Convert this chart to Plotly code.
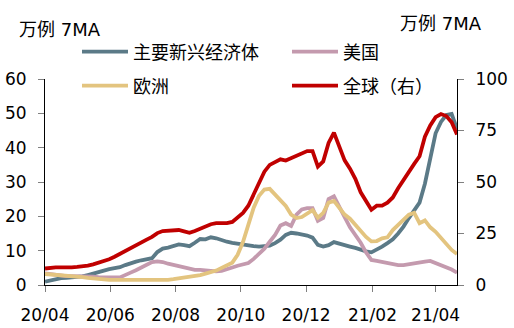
import pandas as pd
import plotly.graph_objects as go

# 5-day sampled dates, 2020-04-01 .. 2021-04-21
dates = pd.date_range("2020-04-01", periods=78, freq="5D")

emerging = [1.0, 1.4, 1.8, 2.0, 2.1, 2.2, 2.3, 2.5, 2.9, 3.4,
            3.8, 4.2, 4.6, 4.9, 5.2, 5.8, 6.4, 6.8, 7.2, 7.4,
            7.8, 9.6, 10.6, 10.9, 11.3, 11.8, 11.6, 11.3, 12.3, 13.4,
            13.3, 13.9, 13.6, 13.0, 12.6, 12.3, 12.0, 11.7, 11.4, 11.3,
            11.2, 11.4, 11.5, 12.2, 13.2, 14.6, 15.2, 15.0, 14.7, 14.4,
            13.8, 11.7, 11.2, 11.6, 12.5, 12.0, 11.5, 11.2, 10.8, 10.2,
            9.8, 9.5, 10.2, 11.2, 12.2, 13.3, 15.0, 17.0, 19.5, 21.8,
            24.0, 29.5, 37.5, 44.2, 47.5, 49.5, 49.8, 45.5]

usa = [3.4, 3.2, 3.0, 2.7, 2.6, 2.6, 2.6, 2.6, 2.5, 2.4,
       2.3, 2.2, 2.2, 2.2, 2.2, 2.8, 3.6, 4.3, 5.0, 5.8,
       6.7, 6.9, 6.7, 6.2, 5.8, 5.4, 5.2, 4.6, 4.4, 4.4,
       4.2, 4.1, 4.0, 4.1, 4.5, 5.1, 5.6, 6.0, 6.4, 7.6,
       9.0, 10.6, 12.6, 14.6, 17.3, 18.0, 17.2, 20.5, 22.0, 22.4,
       22.4, 18.7, 19.5, 25.0, 25.8, 23.0, 19.8, 16.8, 14.6, 12.3,
       9.5, 7.3, 7.0, 6.7, 6.3, 5.9, 5.8, 5.8, 6.1, 6.3,
       6.5, 6.8, 7.0, 6.4, 5.9, 5.1, 4.5, 3.6]

europe = [3.2, 3.1, 3.0, 2.9, 2.8, 2.6, 2.5, 2.3, 2.1, 1.9,
          1.7, 1.6, 1.5, 1.5, 1.5, 1.4, 1.3, 1.3, 1.3, 1.3,
          1.3, 1.3, 1.4, 1.5, 1.7, 1.9, 2.2, 2.4, 2.7, 2.9,
          3.3, 3.7, 4.2, 5.0, 5.7, 6.5, 8.8, 12.5, 17.5, 22.5,
          26.0, 27.8, 28.0, 26.3, 25.0, 23.0, 20.5, 19.5, 19.8, 20.8,
          21.8, 19.6, 21.0, 24.0, 24.5, 22.5, 20.5, 19.3, 17.5, 15.8,
          14.0, 12.7, 12.8, 13.6, 13.9, 16.0, 17.5, 19.2, 20.5, 21.0,
          18.0, 18.8, 16.8, 15.5, 13.8, 11.8, 10.2, 9.0]

world = [8.0, 8.5, 8.6, 8.6, 8.5, 8.6, 8.8, 9.0, 9.4, 10.0,
         10.7, 11.5, 12.5, 13.7, 15.0, 16.5, 18.0, 19.3, 20.6, 22.0,
         23.4, 25.2, 26.2, 26.4, 26.2, 26.7, 26.0, 25.3, 26.2, 27.3,
         28.2, 29.5, 30.0, 30.0, 30.0, 30.6, 32.8, 35.0, 38.5, 44.0,
         50.0, 55.0, 58.3, 59.8, 61.0, 60.4, 61.5, 62.8, 64.0, 65.0,
         65.0, 57.5, 60.0, 69.0, 74.0, 67.5, 60.5, 56.5, 51.5, 45.0,
         40.5, 36.5, 38.5, 38.5, 40.0, 42.5, 47.0, 51.0, 55.5, 58.8,
         62.5, 72.0, 77.5, 81.5, 83.0, 82.0, 79.0, 73.0]

names = ["主要新兴经济体", "美国", "欧洲", "全球（右）"]
colors = ["#5b7a87", "#c49aae", "#e3c47f", "#c00000"]

CJK = "DejaVu Sans, Noto Sans CJK SC"
NUM = "DejaVu Sans"

W_FIG, H_FIG = 514, 328
L, R, T, B = 45, 57, 79, 43
PW, PH = W_FIG - L - R, H_FIG - T - B

# legend slots (pixel x of legend box, pixel y of row centre)
leg_ids = ["legend", "legend2", "legend3", "legend4"]
leg_pos = [(77, 52), (287, 52), (77, 86), (287, 86)]
axes = ["y", "y", "y", "y2"]

fig = go.Figure()
series = [emerging, usa, europe, world]
for s, n, c, lg, ax in zip(series, names, colors, leg_ids, axes):
    fig.add_trace(go.Scatter(x=dates, y=s, name=n, mode="lines",
                             line=dict(color=c, width=3.8),
                             legend=lg, yaxis=ax, showlegend=True))

tickfont = dict(family=NUM, size=17, color="black")
legfont = dict(family=CJK, size=18, color="black")
axis_common = dict(showline=True, linecolor="black", linewidth=1,
                   ticks="outside", ticklen=6, tickcolor="#808080",
                   showgrid=False, zeroline=False, tickfont=tickfont)

legend_layout = {}
for lg, (px, py) in zip(leg_ids, leg_pos):
    legend_layout[lg] = dict(orientation="h", xref="container", yref="container",
                             x=px / W_FIG, y=1 - py / H_FIG,
                             xanchor="left", yanchor="middle", itemwidth=46,
                             font=legfont, bgcolor="rgba(0,0,0,0)")

fig.update_layout(
    width=W_FIG, height=H_FIG, showlegend=True,
    margin=dict(l=L, r=R, t=T, b=B, autoexpand=False),
    paper_bgcolor="white", plot_bgcolor="white",
    font=dict(family=CJK, color="black"),
    xaxis=dict(type="date", range=["2020-04-01", "2021-04-21"],
               tick0="2020-04-01", dtick="M2", tickformat="%y/%m",
               ticklabelstandoff=9, **axis_common),
    yaxis=dict(range=[0, 60], dtick=10, ticklabelstandoff=8, **axis_common),
    yaxis2=dict(range=[0, 100], dtick=25, overlaying="y", side="right",
                ticklabelstandoff=8, **axis_common),
    annotations=[
        dict(text="万例 7MA", xref="paper", yref="paper",
             x=(17 - L) / PW, y=(H_FIG - B - 29) / PH,
             xanchor="left", yanchor="middle", showarrow=False,
             font=dict(family=CJK, size=18, color="black")),
        dict(text="万例 7MA", xref="paper", yref="paper",
             x=(398 - L) / PW, y=(H_FIG - B - 24) / PH,
             xanchor="left", yanchor="middle", showarrow=False,
             font=dict(family=CJK, size=18, color="black")),
    ],
    **legend_layout,
)

fig.write_html("out.html")
